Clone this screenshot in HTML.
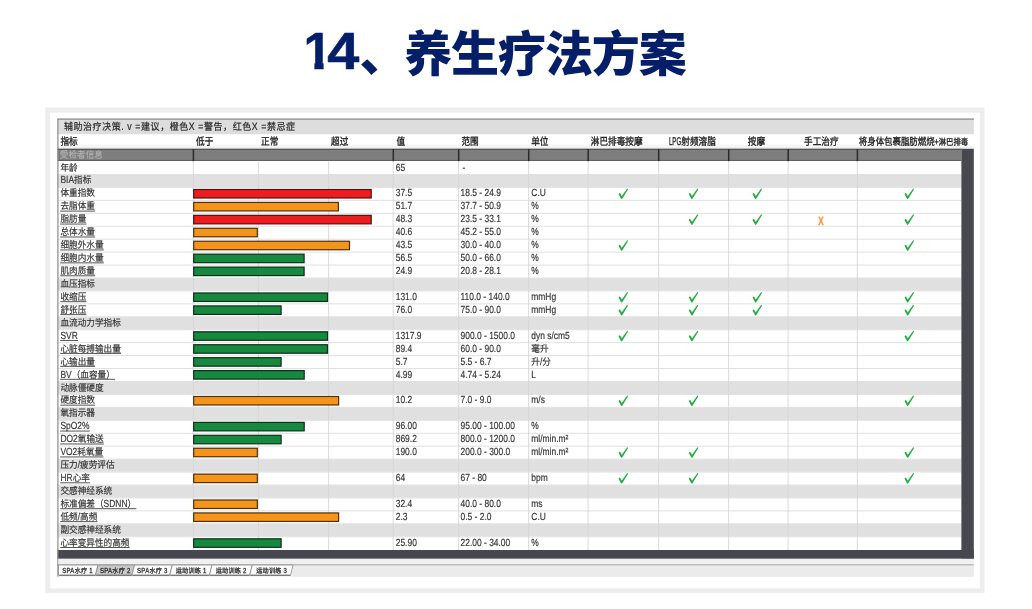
<!DOCTYPE html>
<html lang="zh-CN"><head><meta charset="utf-8"><title>14、养生疗法方案</title>
<style>
html,body{margin:0;padding:0;background:#fff;}
body{width:1032px;height:609px;overflow:hidden;position:relative;font-family:"Liberation Sans","Noto Sans CJK SC",sans-serif;}
h1{position:absolute;left:0;top:0;margin:0;width:1032px;height:100px;font-weight:900;font-size:47px;line-height:1;color:#041f68;white-space:nowrap;}
h1 span{position:absolute;}
h1 .n{font-size:51px;font-weight:700;-webkit-text-stroke:0.6px #041f68;}
h1 .c{font-size:48px;letter-spacing:-1.1px;}
svg{position:absolute;left:0;top:0;filter:blur(0.4px);}
svg text{font-family:"Liberation Sans","Noto Sans CJK SC",sans-serif;white-space:pre;text-rendering:geometricPrecision;}
</style></head><body>
<h1><span class="n" style="left:303.5px;top:26.3px;clip-path:polygon(-5px 0,40px 0,40px 36.4px,20.1px 36.4px,20.1px 51px,10.9px 51px,10.9px 36.4px,-5px 36.4px)">1</span><span class="n" style="left:331.2px;top:26.3px;transform:scaleX(1.13);transform-origin:100% 50%">4</span><span class="c" style="left:359.4px;top:30.6px">、</span><span class="c" style="left:404.2px;top:30.6px">养生疗法方案</span></h1>
<svg width="1032" height="609" viewBox="0 0 1032 609">
<defs>
<linearGradient id="hg" x1="0" y1="0" x2="0" y2="1"><stop offset="0" stop-color="#ffffff"/><stop offset="0.6" stop-color="#ffffff"/><stop offset="1" stop-color="#ececec"/></linearGradient>
<path id="ck" d="M-4.15 -1.0 Q-3.6 -1.5 -3.2 -0.9 L-1.55 1.75 L3.65 -5.5 Q4.1 -5.95 4.5 -5.45 Q4.75 -5.05 4.45 -4.55 L-1.1 4.55 Q-1.75 5.3 -2.35 4.5 L-4.7 0.15 Q-4.9 -0.4 -4.15 -1.0 Z" fill="#26ae43"/>
</defs>
<rect x="45.2" y="107.5" width="939.3" height="485.6" fill="#ededef"/>
<rect x="50.2" y="112.6" width="929.6" height="475.8" fill="#ffffff"/>
<rect x="57.5" y="118.7" width="916.3" height="15.8" fill="#dddddd"/>
<line x1="57.5" y1="119.2" x2="973.8" y2="119.2" stroke="#8c8c8c" stroke-width="1.2"/>
<rect x="57.5" y="134.5" width="916.3" height="14.3" fill="url(#hg)"/>
<rect x="57.5" y="148.8" width="903.9" height="401.19" fill="#ffffff"/>
<rect x="57.5" y="148.8" width="903.9" height="12.15" fill="#7e7e7e"/>
<line x1="57.5" y1="149.4" x2="961.4" y2="149.4" stroke="#555555" stroke-width="1.2"/>
<line x1="57.5" y1="160.45" x2="961.4" y2="160.45" stroke="#5e5e5e" stroke-width="1"/>
<line x1="193.4" y1="149.1" x2="193.4" y2="161.25" stroke="#2b2b2b" stroke-width="1.5"/>
<line x1="393.3" y1="149.1" x2="393.3" y2="161.25" stroke="#2b2b2b" stroke-width="1.5"/>
<line x1="458.7" y1="149.1" x2="458.7" y2="161.25" stroke="#2b2b2b" stroke-width="1.5"/>
<line x1="528.7" y1="149.1" x2="528.7" y2="161.25" stroke="#2b2b2b" stroke-width="1.5"/>
<line x1="588.2" y1="149.1" x2="588.2" y2="161.25" stroke="#2b2b2b" stroke-width="1.5"/>
<line x1="658.7" y1="149.1" x2="658.7" y2="161.25" stroke="#2b2b2b" stroke-width="1.5"/>
<line x1="728.7" y1="149.1" x2="728.7" y2="161.25" stroke="#2b2b2b" stroke-width="1.5"/>
<line x1="788.2" y1="149.1" x2="788.2" y2="161.25" stroke="#2b2b2b" stroke-width="1.5"/>
<line x1="857.4" y1="149.1" x2="857.4" y2="161.25" stroke="#2b2b2b" stroke-width="1.5"/>
<rect x="57.5" y="174.69" width="903.9" height="12.44" fill="#e0e0e0"/>
<rect x="57.5" y="278.19" width="903.9" height="12.44" fill="#e0e0e0"/>
<rect x="57.5" y="317.01" width="903.9" height="12.44" fill="#e0e0e0"/>
<rect x="57.5" y="381.7" width="903.9" height="12.44" fill="#e0e0e0"/>
<rect x="57.5" y="407.57" width="903.9" height="12.44" fill="#e0e0e0"/>
<rect x="57.5" y="459.32" width="903.9" height="12.44" fill="#e0e0e0"/>
<rect x="57.5" y="485.2" width="903.9" height="12.44" fill="#e0e0e0"/>
<rect x="57.5" y="524.01" width="903.9" height="12.44" fill="#e0e0e0"/>
<line x1="57.5" y1="174.49" x2="961.4" y2="174.49" stroke="#e0e0e0" stroke-width="1"/>
<line x1="57.5" y1="187.43" x2="961.4" y2="187.43" stroke="#e0e0e0" stroke-width="1"/>
<line x1="57.5" y1="200.36" x2="961.4" y2="200.36" stroke="#e0e0e0" stroke-width="1"/>
<line x1="57.5" y1="213.3" x2="961.4" y2="213.3" stroke="#e0e0e0" stroke-width="1"/>
<line x1="57.5" y1="226.24" x2="961.4" y2="226.24" stroke="#e0e0e0" stroke-width="1"/>
<line x1="57.5" y1="239.18" x2="961.4" y2="239.18" stroke="#e0e0e0" stroke-width="1"/>
<line x1="57.5" y1="252.12" x2="961.4" y2="252.12" stroke="#e0e0e0" stroke-width="1"/>
<line x1="57.5" y1="265.05" x2="961.4" y2="265.05" stroke="#e0e0e0" stroke-width="1"/>
<line x1="57.5" y1="277.99" x2="961.4" y2="277.99" stroke="#e0e0e0" stroke-width="1"/>
<line x1="57.5" y1="290.93" x2="961.4" y2="290.93" stroke="#e0e0e0" stroke-width="1"/>
<line x1="57.5" y1="303.87" x2="961.4" y2="303.87" stroke="#e0e0e0" stroke-width="1"/>
<line x1="57.5" y1="316.81" x2="961.4" y2="316.81" stroke="#e0e0e0" stroke-width="1"/>
<line x1="57.5" y1="329.74" x2="961.4" y2="329.74" stroke="#e0e0e0" stroke-width="1"/>
<line x1="57.5" y1="342.68" x2="961.4" y2="342.68" stroke="#e0e0e0" stroke-width="1"/>
<line x1="57.5" y1="355.62" x2="961.4" y2="355.62" stroke="#e0e0e0" stroke-width="1"/>
<line x1="57.5" y1="368.56" x2="961.4" y2="368.56" stroke="#e0e0e0" stroke-width="1"/>
<line x1="57.5" y1="381.5" x2="961.4" y2="381.5" stroke="#e0e0e0" stroke-width="1"/>
<line x1="57.5" y1="394.43" x2="961.4" y2="394.43" stroke="#e0e0e0" stroke-width="1"/>
<line x1="57.5" y1="407.37" x2="961.4" y2="407.37" stroke="#e0e0e0" stroke-width="1"/>
<line x1="57.5" y1="420.31" x2="961.4" y2="420.31" stroke="#e0e0e0" stroke-width="1"/>
<line x1="57.5" y1="433.25" x2="961.4" y2="433.25" stroke="#e0e0e0" stroke-width="1"/>
<line x1="57.5" y1="446.19" x2="961.4" y2="446.19" stroke="#e0e0e0" stroke-width="1"/>
<line x1="57.5" y1="459.12" x2="961.4" y2="459.12" stroke="#e0e0e0" stroke-width="1"/>
<line x1="57.5" y1="472.06" x2="961.4" y2="472.06" stroke="#e0e0e0" stroke-width="1"/>
<line x1="57.5" y1="485" x2="961.4" y2="485" stroke="#e0e0e0" stroke-width="1"/>
<line x1="57.5" y1="497.94" x2="961.4" y2="497.94" stroke="#e0e0e0" stroke-width="1"/>
<line x1="57.5" y1="510.88" x2="961.4" y2="510.88" stroke="#e0e0e0" stroke-width="1"/>
<line x1="57.5" y1="523.81" x2="961.4" y2="523.81" stroke="#e0e0e0" stroke-width="1"/>
<line x1="57.5" y1="536.75" x2="961.4" y2="536.75" stroke="#e0e0e0" stroke-width="1"/>
<line x1="193.3" y1="161.85" x2="193.3" y2="549.99" stroke="#d6d6d6" stroke-width="0.9"/>
<line x1="258.4" y1="161.85" x2="258.4" y2="549.99" stroke="#d6d6d6" stroke-width="0.9"/>
<line x1="328.6" y1="161.85" x2="328.6" y2="549.99" stroke="#d6d6d6" stroke-width="0.9"/>
<line x1="393.2" y1="161.85" x2="393.2" y2="549.99" stroke="#d6d6d6" stroke-width="0.9"/>
<line x1="458.6" y1="161.85" x2="458.6" y2="549.99" stroke="#d6d6d6" stroke-width="0.9"/>
<line x1="528.6" y1="161.85" x2="528.6" y2="549.99" stroke="#d6d6d6" stroke-width="0.9"/>
<line x1="588.1" y1="161.85" x2="588.1" y2="549.99" stroke="#d6d6d6" stroke-width="0.9"/>
<line x1="658.6" y1="161.85" x2="658.6" y2="549.99" stroke="#d6d6d6" stroke-width="0.9"/>
<line x1="728.6" y1="161.85" x2="728.6" y2="549.99" stroke="#d6d6d6" stroke-width="0.9"/>
<line x1="788.1" y1="161.85" x2="788.1" y2="549.99" stroke="#d6d6d6" stroke-width="0.9"/>
<line x1="857.3" y1="161.85" x2="857.3" y2="549.99" stroke="#d6d6d6" stroke-width="0.9"/>
<rect x="961.4" y="148.8" width="12.4" height="410" fill="#46474f"/>
<rect x="57.5" y="549.99" width="916.3" height="8.81" fill="#46474f"/>
<line x1="57.9" y1="118.7" x2="57.9" y2="576.8" stroke="#8a8a8a" stroke-width="1.2"/>
<rect x="58.5" y="558.8" width="915.3" height="18" fill="#f0f0f0"/>
<line x1="57.5" y1="565" x2="973.8" y2="565" stroke="#8e8e8e" stroke-width="1"/>
<rect x="292.5" y="565.5" width="681.3" height="11.3" fill="#ebebeb"/>
<path d="M58.5 565 L98 565 L95.4 575.3 L58.5 575.3 Z" fill="#fbfbfb" stroke="#8a8a8a" stroke-width="0.8"/>
<line x1="59.3" y1="575.2" x2="95.1" y2="575.2" stroke="#6a6a6a" stroke-width="1.1"/>
<g><text transform="translate(62.3 572.7) scale(0.82 1)" font-size="7.31" fill="#222222" stroke="#222222" stroke-width="0.25" letter-spacing="0.3">SPA</text><text transform="translate(74.63 572.7) scale(0.92 1)" font-size="6.67" fill="#222222" stroke="#222222" stroke-width="0.25" letter-spacing="0.27">水疗</text><text transform="translate(87.39 572.7) scale(0.82 1)" font-size="7.31" fill="#222222" stroke="#222222" stroke-width="0.25" letter-spacing="0.3"> 1</text></g>
<path d="M98 565 L134.5 565 L131.9 575.3 L95.4 575.3 Z" fill="#c9c9c9" stroke="#8a8a8a" stroke-width="0.8"/>
<line x1="96.2" y1="575.2" x2="131.6" y2="575.2" stroke="#6a6a6a" stroke-width="1.1"/>
<g><text transform="translate(99.95 572.7) scale(0.82 1)" font-size="7.31" fill="#222222" stroke="#222222" stroke-width="0.25" letter-spacing="0.3">SPA</text><text transform="translate(112.28 572.7) scale(0.92 1)" font-size="6.67" fill="#222222" stroke="#222222" stroke-width="0.25" letter-spacing="0.27">水疗</text><text transform="translate(125.04 572.7) scale(0.82 1)" font-size="7.31" fill="#222222" stroke="#222222" stroke-width="0.25" letter-spacing="0.3"> 2</text></g>
<path d="M134.5 565 L172.3 565 L169.7 575.3 L131.9 575.3 Z" fill="#fbfbfb" stroke="#8a8a8a" stroke-width="0.8"/>
<line x1="132.7" y1="575.2" x2="169.4" y2="575.2" stroke="#6a6a6a" stroke-width="1.1"/>
<g><text transform="translate(137.1 572.7) scale(0.82 1)" font-size="7.31" fill="#222222" stroke="#222222" stroke-width="0.25" letter-spacing="0.3">SPA</text><text transform="translate(149.43 572.7) scale(0.92 1)" font-size="6.67" fill="#222222" stroke="#222222" stroke-width="0.25" letter-spacing="0.27">水疗</text><text transform="translate(162.19 572.7) scale(0.82 1)" font-size="7.31" fill="#222222" stroke="#222222" stroke-width="0.25" letter-spacing="0.3"> 3</text></g>
<path d="M172.3 565 L212 565 L209.4 575.3 L169.7 575.3 Z" fill="#fbfbfb" stroke="#8a8a8a" stroke-width="0.8"/>
<line x1="170.5" y1="575.2" x2="209.1" y2="575.2" stroke="#6a6a6a" stroke-width="1.1"/>
<g><text transform="translate(175.64 572.7) scale(0.92 1)" font-size="6.67" fill="#222222" stroke="#222222" stroke-width="0.25" letter-spacing="0.27">运动训练</text><text transform="translate(201.15 572.7) scale(0.82 1)" font-size="7.31" fill="#222222" stroke="#222222" stroke-width="0.25" letter-spacing="0.3"> 1</text></g>
<path d="M212 565 L252.3 565 L249.7 575.3 L209.4 575.3 Z" fill="#fbfbfb" stroke="#8a8a8a" stroke-width="0.8"/>
<line x1="210.2" y1="575.2" x2="249.4" y2="575.2" stroke="#6a6a6a" stroke-width="1.1"/>
<g><text transform="translate(215.64 572.7) scale(0.92 1)" font-size="6.67" fill="#222222" stroke="#222222" stroke-width="0.25" letter-spacing="0.27">运动训练</text><text transform="translate(241.15 572.7) scale(0.82 1)" font-size="7.31" fill="#222222" stroke="#222222" stroke-width="0.25" letter-spacing="0.3"> 2</text></g>
<path d="M252.3 565 L293.1 565 L290.5 575.3 L249.7 575.3 Z" fill="#fbfbfb" stroke="#8a8a8a" stroke-width="0.8"/>
<line x1="250.5" y1="575.2" x2="290.2" y2="575.2" stroke="#6a6a6a" stroke-width="1.1"/>
<g><text transform="translate(256.19 572.7) scale(0.92 1)" font-size="6.67" fill="#222222" stroke="#222222" stroke-width="0.25" letter-spacing="0.27">运动训练</text><text transform="translate(281.7 572.7) scale(0.82 1)" font-size="7.31" fill="#222222" stroke="#222222" stroke-width="0.25" letter-spacing="0.3"> 3</text></g>
<rect x="193.7" y="189.48" width="177.5" height="8.5" fill="#ee1c1e" stroke="#4e100e" stroke-width="1.2"/>
<rect x="193.7" y="202.41" width="144.7" height="8.5" fill="#f4941a" stroke="#4e300c" stroke-width="1.2"/>
<rect x="193.7" y="215.35" width="177.5" height="8.5" fill="#ee1c1e" stroke="#4e100e" stroke-width="1.2"/>
<rect x="193.7" y="228.29" width="63.6" height="8.5" fill="#f4941a" stroke="#4e300c" stroke-width="1.2"/>
<rect x="193.7" y="241.23" width="155.8" height="8.5" fill="#f4941a" stroke="#4e300c" stroke-width="1.2"/>
<rect x="193.7" y="254.17" width="110.4" height="8.5" fill="#17893f" stroke="#0a3019" stroke-width="1.2"/>
<rect x="193.7" y="267.1" width="110.4" height="8.5" fill="#17893f" stroke="#0a3019" stroke-width="1.2"/>
<rect x="193.7" y="292.98" width="133.8" height="8.5" fill="#17893f" stroke="#0a3019" stroke-width="1.2"/>
<rect x="193.7" y="305.92" width="87.4" height="8.5" fill="#17893f" stroke="#0a3019" stroke-width="1.2"/>
<rect x="193.7" y="331.79" width="133.8" height="8.5" fill="#17893f" stroke="#0a3019" stroke-width="1.2"/>
<rect x="193.7" y="344.73" width="133.8" height="8.5" fill="#17893f" stroke="#0a3019" stroke-width="1.2"/>
<rect x="193.7" y="357.67" width="87.4" height="8.5" fill="#17893f" stroke="#0a3019" stroke-width="1.2"/>
<rect x="193.7" y="370.61" width="110.5" height="8.5" fill="#17893f" stroke="#0a3019" stroke-width="1.2"/>
<rect x="193.7" y="396.48" width="144.9" height="8.5" fill="#f4941a" stroke="#4e300c" stroke-width="1.2"/>
<rect x="193.7" y="422.36" width="110.5" height="8.5" fill="#17893f" stroke="#0a3019" stroke-width="1.2"/>
<rect x="193.7" y="435.3" width="87.4" height="8.5" fill="#17893f" stroke="#0a3019" stroke-width="1.2"/>
<rect x="193.7" y="448.24" width="63.6" height="8.5" fill="#f4941a" stroke="#4e300c" stroke-width="1.2"/>
<rect x="193.7" y="474.11" width="63.6" height="8.5" fill="#f4941a" stroke="#4e300c" stroke-width="1.2"/>
<rect x="193.7" y="499.99" width="63.6" height="8.5" fill="#f4941a" stroke="#4e300c" stroke-width="1.2"/>
<rect x="193.7" y="512.93" width="144.9" height="8.5" fill="#f4941a" stroke="#4e300c" stroke-width="1.2"/>
<rect x="193.7" y="538.8" width="87.4" height="8.5" fill="#17893f" stroke="#0a3019" stroke-width="1.2"/>
<g><text transform="translate(63.9 129.7) scale(0.92 1)" font-size="9.78" fill="#2a2a2a" stroke="#2a2a2a" stroke-width="0.2" letter-spacing="0.63">辅助治疗决策</text><text transform="translate(121.23 129.7) scale(0.82 1)" font-size="10.71" fill="#2a2a2a" stroke="#2a2a2a" stroke-width="0.2" letter-spacing="0.71">. v =</text><text transform="translate(141.01 129.7) scale(0.92 1)" font-size="9.78" fill="#2a2a2a" stroke="#2a2a2a" stroke-width="0.2" letter-spacing="0.63">建议，橙色</text><text transform="translate(188.78 129.7) scale(0.82 1)" font-size="10.71" fill="#2a2a2a" stroke="#2a2a2a" stroke-width="0.2" letter-spacing="0.71">X =</text><text transform="translate(203.98 129.7) scale(0.92 1)" font-size="9.78" fill="#2a2a2a" stroke="#2a2a2a" stroke-width="0.2" letter-spacing="0.63">警告，红色</text><text transform="translate(251.76 129.7) scale(0.82 1)" font-size="10.71" fill="#2a2a2a" stroke="#2a2a2a" stroke-width="0.2" letter-spacing="0.71">X =</text><text transform="translate(266.96 129.7) scale(0.92 1)" font-size="9.78" fill="#2a2a2a" stroke="#2a2a2a" stroke-width="0.2" letter-spacing="0.63">禁忌症</text></g>
<text transform="translate(60.4 145.4) scale(0.92 1.09)" font-size="9.4" fill="#1c1c1c" stroke="#1c1c1c" stroke-width="0.3">指标</text>
<text transform="translate(196.1 145.4) scale(0.92 1.09)" font-size="9.4" fill="#1c1c1c" stroke="#1c1c1c" stroke-width="0.3">低于</text>
<text transform="translate(261.1 145.4) scale(0.92 1.09)" font-size="9.4" fill="#1c1c1c" stroke="#1c1c1c" stroke-width="0.3">正常</text>
<text transform="translate(331.1 145.4) scale(0.92 1.09)" font-size="9.4" fill="#1c1c1c" stroke="#1c1c1c" stroke-width="0.3">超过</text>
<text transform="translate(396.5 145.4) scale(0.92 1.09)" font-size="9.4" fill="#1c1c1c" stroke="#1c1c1c" stroke-width="0.3">值</text>
<text transform="translate(461.4 145.4) scale(0.92 1.09)" font-size="9.4" fill="#1c1c1c" stroke="#1c1c1c" stroke-width="0.3">范围</text>
<text transform="translate(531.2 145.4) scale(0.92 1.09)" font-size="9.4" fill="#1c1c1c" stroke="#1c1c1c" stroke-width="0.3">单位</text>
<text transform="translate(590.8 145.4) scale(0.92 1.09)" font-size="9.4" fill="#1c1c1c" stroke="#1c1c1c" stroke-width="0.3">淋巴排毒按摩</text>
<g><text transform="translate(668.9 145.4) scale(0.6 1.09)" font-size="10.3" fill="#1c1c1c" stroke="#1c1c1c" stroke-width="0.3">LPG</text><text transform="translate(681.27 145.4) scale(0.92 1.09)" font-size="9.4" fill="#1c1c1c" stroke="#1c1c1c" stroke-width="0.3">射频溶脂</text></g>
<text transform="translate(747.8 145.4) scale(0.92 1.09)" font-size="9.4" fill="#1c1c1c" stroke="#1c1c1c" stroke-width="0.3">按摩</text>
<text transform="translate(804 145.4) scale(0.92 1.09)" font-size="9.4" fill="#1c1c1c" stroke="#1c1c1c" stroke-width="0.3">手工治疗</text>
<text transform="translate(858.8 145.4) scale(0.92 1.09)" font-size="9.17" fill="#1c1c1c" stroke="#1c1c1c" stroke-width="0.3">将身体包裹脂肪燃烧</text><text transform="translate(934.42 145.4) scale(0.82 1.09)" font-size="8.81" fill="#1c1c1c" stroke="#1c1c1c" stroke-width="0.3">+</text><text transform="translate(938.65 145.4) scale(0.92 1.09)" font-size="8.04" fill="#1c1c1c" stroke="#1c1c1c" stroke-width="0.3">淋巴排毒</text>
<text transform="translate(59.8 158.3) scale(0.92 1)" font-size="9.4" fill="#b4b4b4" stroke="#b4b4b4" stroke-width="0.1">受检者信息</text>
<text transform="translate(60.4 170.55) scale(0.92 1)" font-size="9.4" fill="#353535" stroke="#353535" stroke-width="0.18">年龄</text>
<text transform="translate(395.7 170.55) scale(0.82 1)" font-size="10.3" fill="#353535" stroke="#353535" stroke-width="0.18">65</text>
<text transform="translate(462.5 170.55) scale(0.82 1)" font-size="10.3" fill="#353535" stroke="#353535" stroke-width="0.18">-</text>
<g><text transform="translate(60.4 183.49) scale(0.82 1)" font-size="10.3" fill="#353535" stroke="#353535" stroke-width="0.18">BIA</text><text transform="translate(74.05 183.49) scale(0.92 1)" font-size="9.4" fill="#353535" stroke="#353535" stroke-width="0.18">指标</text></g>
<text transform="translate(60.4 196.43) scale(0.92 1)" font-size="9.4" fill="#353535" stroke="#353535" stroke-width="0.18">体重指数</text>
<text transform="translate(395.7 196.43) scale(0.82 1)" font-size="10.3" fill="#353535" stroke="#353535" stroke-width="0.18">37.5</text>
<text transform="translate(460.5 196.43) scale(0.82 1)" font-size="10.3" fill="#353535" stroke="#353535" stroke-width="0.18">18.5 - 24.9</text>
<text transform="translate(531.3 196.43) scale(0.82 1)" font-size="10.3" fill="#353535" stroke="#353535" stroke-width="0.18">C.U</text>
<use href="#ck" x="623.35" y="194.18"/>
<use href="#ck" x="693.6" y="194.18"/>
<use href="#ck" x="757.35" y="194.18"/>
<use href="#ck" x="909.35" y="194.18"/>
<text transform="translate(60.4 209.36) scale(0.92 1)" font-size="9.4" fill="#353535" stroke="#353535" stroke-width="0.18">去脂体重</text>
<line x1="60.2" y1="211.11" x2="95.12" y2="211.11" stroke="#353535" stroke-width="0.85"/>
<text transform="translate(395.7 209.36) scale(0.82 1)" font-size="10.3" fill="#353535" stroke="#353535" stroke-width="0.18">51.7</text>
<text transform="translate(460.5 209.36) scale(0.82 1)" font-size="10.3" fill="#353535" stroke="#353535" stroke-width="0.18">37.7 - 50.9</text>
<text transform="translate(531.3 209.36) scale(0.82 1)" font-size="10.3" fill="#353535" stroke="#353535" stroke-width="0.18">%</text>
<text transform="translate(60.4 222.3) scale(0.92 1)" font-size="9.4" fill="#353535" stroke="#353535" stroke-width="0.18">脂肪量</text>
<line x1="60.2" y1="224.05" x2="86.49" y2="224.05" stroke="#353535" stroke-width="0.85"/>
<text transform="translate(395.7 222.3) scale(0.82 1)" font-size="10.3" fill="#353535" stroke="#353535" stroke-width="0.18">48.3</text>
<text transform="translate(460.5 222.3) scale(0.82 1)" font-size="10.3" fill="#353535" stroke="#353535" stroke-width="0.18">23.5 - 33.1</text>
<text transform="translate(531.3 222.3) scale(0.82 1)" font-size="10.3" fill="#353535" stroke="#353535" stroke-width="0.18">%</text>
<use href="#ck" x="693.6" y="220.05"/>
<use href="#ck" x="757.35" y="220.05"/>
<text transform="translate(821.05 224.55) scale(0.68 1)" font-size="11.9" style="font-weight:700" fill="#f3952f" stroke="#f3952f" stroke-width="0.3" text-anchor="middle">X</text>
<use href="#ck" x="909.35" y="220.05"/>
<text transform="translate(60.4 235.24) scale(0.92 1)" font-size="9.4" fill="#353535" stroke="#353535" stroke-width="0.18">总体水量</text>
<line x1="60.2" y1="236.99" x2="95.12" y2="236.99" stroke="#353535" stroke-width="0.85"/>
<text transform="translate(395.7 235.24) scale(0.82 1)" font-size="10.3" fill="#353535" stroke="#353535" stroke-width="0.18">40.6</text>
<text transform="translate(460.5 235.24) scale(0.82 1)" font-size="10.3" fill="#353535" stroke="#353535" stroke-width="0.18">45.2 - 55.0</text>
<text transform="translate(531.3 235.24) scale(0.82 1)" font-size="10.3" fill="#353535" stroke="#353535" stroke-width="0.18">%</text>
<text transform="translate(60.4 248.18) scale(0.92 1)" font-size="9.4" fill="#353535" stroke="#353535" stroke-width="0.18">细胞外水量</text>
<line x1="60.2" y1="249.93" x2="103.75" y2="249.93" stroke="#353535" stroke-width="0.85"/>
<text transform="translate(395.7 248.18) scale(0.82 1)" font-size="10.3" fill="#353535" stroke="#353535" stroke-width="0.18">43.5</text>
<text transform="translate(460.5 248.18) scale(0.82 1)" font-size="10.3" fill="#353535" stroke="#353535" stroke-width="0.18">30.0 - 40.0</text>
<text transform="translate(531.3 248.18) scale(0.82 1)" font-size="10.3" fill="#353535" stroke="#353535" stroke-width="0.18">%</text>
<use href="#ck" x="623.35" y="245.93"/>
<use href="#ck" x="909.35" y="245.93"/>
<text transform="translate(60.4 261.12) scale(0.92 1)" font-size="9.4" fill="#353535" stroke="#353535" stroke-width="0.18">细胞内水量</text>
<line x1="60.2" y1="262.87" x2="103.75" y2="262.87" stroke="#353535" stroke-width="0.85"/>
<text transform="translate(395.7 261.12) scale(0.82 1)" font-size="10.3" fill="#353535" stroke="#353535" stroke-width="0.18">56.5</text>
<text transform="translate(460.5 261.12) scale(0.82 1)" font-size="10.3" fill="#353535" stroke="#353535" stroke-width="0.18">50.0 - 66.0</text>
<text transform="translate(531.3 261.12) scale(0.82 1)" font-size="10.3" fill="#353535" stroke="#353535" stroke-width="0.18">%</text>
<text transform="translate(60.4 274.05) scale(0.92 1)" font-size="9.4" fill="#353535" stroke="#353535" stroke-width="0.18">肌肉质量</text>
<line x1="60.2" y1="275.8" x2="95.12" y2="275.8" stroke="#353535" stroke-width="0.85"/>
<text transform="translate(395.7 274.05) scale(0.82 1)" font-size="10.3" fill="#353535" stroke="#353535" stroke-width="0.18">24.9</text>
<text transform="translate(460.5 274.05) scale(0.82 1)" font-size="10.3" fill="#353535" stroke="#353535" stroke-width="0.18">20.8 - 28.1</text>
<text transform="translate(531.3 274.05) scale(0.82 1)" font-size="10.3" fill="#353535" stroke="#353535" stroke-width="0.18">%</text>
<text transform="translate(60.4 286.99) scale(0.92 1)" font-size="9.4" fill="#353535" stroke="#353535" stroke-width="0.18">血压指标</text>
<text transform="translate(60.4 299.93) scale(0.92 1)" font-size="9.4" fill="#353535" stroke="#353535" stroke-width="0.18">收缩压</text>
<line x1="60.2" y1="301.68" x2="86.49" y2="301.68" stroke="#353535" stroke-width="0.85"/>
<text transform="translate(395.7 299.93) scale(0.82 1)" font-size="10.3" fill="#353535" stroke="#353535" stroke-width="0.18">131.0</text>
<text transform="translate(460.5 299.93) scale(0.82 1)" font-size="10.3" fill="#353535" stroke="#353535" stroke-width="0.18">110.0 - 140.0</text>
<text transform="translate(531.3 299.93) scale(0.82 1)" font-size="10.3" fill="#353535" stroke="#353535" stroke-width="0.18">mmHg</text>
<use href="#ck" x="623.35" y="297.68"/>
<use href="#ck" x="693.6" y="297.68"/>
<use href="#ck" x="757.35" y="297.68"/>
<use href="#ck" x="909.35" y="297.68"/>
<text transform="translate(60.4 312.87) scale(0.92 1)" font-size="9.4" fill="#353535" stroke="#353535" stroke-width="0.18">舒张压</text>
<line x1="60.2" y1="314.62" x2="86.49" y2="314.62" stroke="#353535" stroke-width="0.85"/>
<text transform="translate(395.7 312.87) scale(0.82 1)" font-size="10.3" fill="#353535" stroke="#353535" stroke-width="0.18">76.0</text>
<text transform="translate(460.5 312.87) scale(0.82 1)" font-size="10.3" fill="#353535" stroke="#353535" stroke-width="0.18">75.0 - 90.0</text>
<text transform="translate(531.3 312.87) scale(0.82 1)" font-size="10.3" fill="#353535" stroke="#353535" stroke-width="0.18">mmHg</text>
<use href="#ck" x="623.35" y="310.62"/>
<use href="#ck" x="693.6" y="310.62"/>
<use href="#ck" x="757.35" y="310.62"/>
<use href="#ck" x="909.35" y="310.62"/>
<text transform="translate(60.4 325.81) scale(0.92 1)" font-size="9.4" fill="#353535" stroke="#353535" stroke-width="0.18">血流动力学指标</text>
<text transform="translate(60.4 338.74) scale(0.82 1)" font-size="10.3" fill="#353535" stroke="#353535" stroke-width="0.18">SVR</text>
<line x1="60.2" y1="340.49" x2="78.01" y2="340.49" stroke="#353535" stroke-width="0.85"/>
<text transform="translate(395.7 338.74) scale(0.82 1)" font-size="10.3" fill="#353535" stroke="#353535" stroke-width="0.18">1317.9</text>
<text transform="translate(460.5 338.74) scale(0.82 1)" font-size="10.3" fill="#353535" stroke="#353535" stroke-width="0.18">900.0 - 1500.0</text>
<text transform="translate(531.3 338.74) scale(0.82 1)" font-size="10.3" fill="#353535" stroke="#353535" stroke-width="0.18">dyn s/cm5</text>
<use href="#ck" x="623.35" y="336.49"/>
<use href="#ck" x="693.6" y="336.49"/>
<use href="#ck" x="909.35" y="336.49"/>
<text transform="translate(60.4 351.68) scale(0.92 1)" font-size="9.4" fill="#353535" stroke="#353535" stroke-width="0.18">心脏每搏输出量</text>
<line x1="60.2" y1="353.43" x2="121" y2="353.43" stroke="#353535" stroke-width="0.85"/>
<text transform="translate(395.7 351.68) scale(0.82 1)" font-size="10.3" fill="#353535" stroke="#353535" stroke-width="0.18">89.4</text>
<text transform="translate(460.5 351.68) scale(0.82 1)" font-size="10.3" fill="#353535" stroke="#353535" stroke-width="0.18">60.0 - 90.0</text>
<text transform="translate(531.3 351.68) scale(0.92 1)" font-size="9.4" fill="#353535" stroke="#353535" stroke-width="0.18">毫升</text>
<text transform="translate(60.4 364.62) scale(0.92 1)" font-size="9.4" fill="#353535" stroke="#353535" stroke-width="0.18">心输出量</text>
<line x1="60.2" y1="366.37" x2="95.12" y2="366.37" stroke="#353535" stroke-width="0.85"/>
<text transform="translate(395.7 364.62) scale(0.82 1)" font-size="10.3" fill="#353535" stroke="#353535" stroke-width="0.18">5.7</text>
<text transform="translate(460.5 364.62) scale(0.82 1)" font-size="10.3" fill="#353535" stroke="#353535" stroke-width="0.18">5.5 - 6.7</text>
<g><text transform="translate(531.3 364.62) scale(0.92 1)" font-size="9.4" fill="#353535" stroke="#353535" stroke-width="0.18">升</text><text transform="translate(539.93 364.62) scale(0.82 1)" font-size="10.3" fill="#353535" stroke="#353535" stroke-width="0.18">/</text><text transform="translate(542.28 364.62) scale(0.92 1)" font-size="9.4" fill="#353535" stroke="#353535" stroke-width="0.18">分</text></g>
<g><text transform="translate(60.4 377.56) scale(0.82 1)" font-size="10.3" fill="#353535" stroke="#353535" stroke-width="0.18">BV</text><text transform="translate(71.69 377.56) scale(0.92 1)" font-size="9.4" fill="#353535" stroke="#353535" stroke-width="0.18">（血容量）</text></g>
<line x1="60.2" y1="379.31" x2="115.04" y2="379.31" stroke="#353535" stroke-width="0.85"/>
<text transform="translate(395.7 377.56) scale(0.82 1)" font-size="10.3" fill="#353535" stroke="#353535" stroke-width="0.18">4.99</text>
<text transform="translate(460.5 377.56) scale(0.82 1)" font-size="10.3" fill="#353535" stroke="#353535" stroke-width="0.18">4.74 - 5.24</text>
<text transform="translate(531.3 377.56) scale(0.82 1)" font-size="10.3" fill="#353535" stroke="#353535" stroke-width="0.18">L</text>
<text transform="translate(60.4 390.5) scale(0.92 1)" font-size="9.4" fill="#353535" stroke="#353535" stroke-width="0.18">动脉僵硬度</text>
<text transform="translate(60.4 403.43) scale(0.92 1)" font-size="9.4" fill="#353535" stroke="#353535" stroke-width="0.18">硬度指数</text>
<line x1="60.2" y1="405.18" x2="95.12" y2="405.18" stroke="#353535" stroke-width="0.85"/>
<text transform="translate(395.7 403.43) scale(0.82 1)" font-size="10.3" fill="#353535" stroke="#353535" stroke-width="0.18">10.2</text>
<text transform="translate(460.5 403.43) scale(0.82 1)" font-size="10.3" fill="#353535" stroke="#353535" stroke-width="0.18">7.0 - 9.0</text>
<text transform="translate(531.3 403.43) scale(0.82 1)" font-size="10.3" fill="#353535" stroke="#353535" stroke-width="0.18">m/s</text>
<use href="#ck" x="623.35" y="401.18"/>
<use href="#ck" x="693.6" y="401.18"/>
<use href="#ck" x="909.35" y="401.18"/>
<text transform="translate(60.4 416.37) scale(0.92 1)" font-size="9.4" fill="#353535" stroke="#353535" stroke-width="0.18">氧指示器</text>
<text transform="translate(60.4 429.31) scale(0.82 1)" font-size="10.3" fill="#353535" stroke="#353535" stroke-width="0.18">SpO2%</text>
<line x1="60.2" y1="431.06" x2="89.78" y2="431.06" stroke="#353535" stroke-width="0.85"/>
<text transform="translate(395.7 429.31) scale(0.82 1)" font-size="10.3" fill="#353535" stroke="#353535" stroke-width="0.18">96.00</text>
<text transform="translate(460.5 429.31) scale(0.82 1)" font-size="10.3" fill="#353535" stroke="#353535" stroke-width="0.18">95.00 - 100.00</text>
<text transform="translate(531.3 429.31) scale(0.82 1)" font-size="10.3" fill="#353535" stroke="#353535" stroke-width="0.18">%</text>
<g><text transform="translate(60.4 442.25) scale(0.82 1)" font-size="10.3" fill="#353535" stroke="#353535" stroke-width="0.18">DO2</text><text transform="translate(77.81 442.25) scale(0.92 1)" font-size="9.4" fill="#353535" stroke="#353535" stroke-width="0.18">氧输送</text></g>
<line x1="60.2" y1="444" x2="103.9" y2="444" stroke="#353535" stroke-width="0.85"/>
<text transform="translate(395.7 442.25) scale(0.82 1)" font-size="10.3" fill="#353535" stroke="#353535" stroke-width="0.18">869.2</text>
<text transform="translate(460.5 442.25) scale(0.82 1)" font-size="10.3" fill="#353535" stroke="#353535" stroke-width="0.18">800.0 - 1200.0</text>
<text transform="translate(531.3 442.25) scale(0.82 1)" font-size="10.3" fill="#353535" stroke="#353535" stroke-width="0.18">ml/min.m²</text>
<g><text transform="translate(60.4 455.19) scale(0.82 1)" font-size="10.3" fill="#353535" stroke="#353535" stroke-width="0.18">VO2</text><text transform="translate(77.34 455.19) scale(0.92 1)" font-size="9.4" fill="#353535" stroke="#353535" stroke-width="0.18">耗氧量</text></g>
<line x1="60.2" y1="456.94" x2="103.43" y2="456.94" stroke="#353535" stroke-width="0.85"/>
<text transform="translate(395.7 455.19) scale(0.82 1)" font-size="10.3" fill="#353535" stroke="#353535" stroke-width="0.18">190.0</text>
<text transform="translate(460.5 455.19) scale(0.82 1)" font-size="10.3" fill="#353535" stroke="#353535" stroke-width="0.18">200.0 - 300.0</text>
<text transform="translate(531.3 455.19) scale(0.82 1)" font-size="10.3" fill="#353535" stroke="#353535" stroke-width="0.18">ml/min.m²</text>
<use href="#ck" x="623.35" y="452.94"/>
<use href="#ck" x="693.6" y="452.94"/>
<use href="#ck" x="909.35" y="452.94"/>
<g><text transform="translate(60.4 468.12) scale(0.92 1)" font-size="9.4" fill="#353535" stroke="#353535" stroke-width="0.18">压力</text><text transform="translate(77.66 468.12) scale(0.82 1)" font-size="10.3" fill="#353535" stroke="#353535" stroke-width="0.18">/</text><text transform="translate(80.01 468.12) scale(0.92 1)" font-size="9.4" fill="#353535" stroke="#353535" stroke-width="0.18">疲劳评估</text></g>
<g><text transform="translate(60.4 481.06) scale(0.82 1)" font-size="10.3" fill="#353535" stroke="#353535" stroke-width="0.18">HR</text><text transform="translate(72.63 481.06) scale(0.92 1)" font-size="9.4" fill="#353535" stroke="#353535" stroke-width="0.18">心率</text></g>
<line x1="60.2" y1="482.81" x2="90.09" y2="482.81" stroke="#353535" stroke-width="0.85"/>
<text transform="translate(395.7 481.06) scale(0.82 1)" font-size="10.3" fill="#353535" stroke="#353535" stroke-width="0.18">64</text>
<text transform="translate(460.5 481.06) scale(0.82 1)" font-size="10.3" fill="#353535" stroke="#353535" stroke-width="0.18">67 - 80</text>
<text transform="translate(531.3 481.06) scale(0.82 1)" font-size="10.3" fill="#353535" stroke="#353535" stroke-width="0.18">bpm</text>
<use href="#ck" x="623.35" y="478.81"/>
<use href="#ck" x="693.6" y="478.81"/>
<use href="#ck" x="909.35" y="478.81"/>
<text transform="translate(60.4 494) scale(0.92 1)" font-size="9.4" fill="#353535" stroke="#353535" stroke-width="0.18">交感神经系统</text>
<g><text transform="translate(60.4 506.94) scale(0.92 1)" font-size="9.4" fill="#353535" stroke="#353535" stroke-width="0.18">标准偏差（</text><text transform="translate(103.55 506.94) scale(0.82 1)" font-size="10.3" fill="#353535" stroke="#353535" stroke-width="0.18">SDNN</text><text transform="translate(127.54 506.94) scale(0.92 1)" font-size="9.4" fill="#353535" stroke="#353535" stroke-width="0.18">）</text></g>
<line x1="60.2" y1="508.69" x2="136.37" y2="508.69" stroke="#353535" stroke-width="0.85"/>
<text transform="translate(395.7 506.94) scale(0.82 1)" font-size="10.3" fill="#353535" stroke="#353535" stroke-width="0.18">32.4</text>
<text transform="translate(460.5 506.94) scale(0.82 1)" font-size="10.3" fill="#353535" stroke="#353535" stroke-width="0.18">40.0 - 80.0</text>
<text transform="translate(531.3 506.94) scale(0.82 1)" font-size="10.3" fill="#353535" stroke="#353535" stroke-width="0.18">ms</text>
<g><text transform="translate(60.4 519.88) scale(0.92 1)" font-size="9.4" fill="#353535" stroke="#353535" stroke-width="0.18">低频</text><text transform="translate(77.66 519.88) scale(0.82 1)" font-size="10.3" fill="#353535" stroke="#353535" stroke-width="0.18">/</text><text transform="translate(80.01 519.88) scale(0.92 1)" font-size="9.4" fill="#353535" stroke="#353535" stroke-width="0.18">高频</text></g>
<line x1="60.2" y1="521.63" x2="97.47" y2="521.63" stroke="#353535" stroke-width="0.85"/>
<text transform="translate(395.7 519.88) scale(0.82 1)" font-size="10.3" fill="#353535" stroke="#353535" stroke-width="0.18">2.3</text>
<text transform="translate(460.5 519.88) scale(0.82 1)" font-size="10.3" fill="#353535" stroke="#353535" stroke-width="0.18">0.5 - 2.0</text>
<text transform="translate(531.3 519.88) scale(0.82 1)" font-size="10.3" fill="#353535" stroke="#353535" stroke-width="0.18">C.U</text>
<text transform="translate(60.4 532.81) scale(0.92 1)" font-size="9.4" fill="#353535" stroke="#353535" stroke-width="0.18">副交感神经系统</text>
<text transform="translate(60.4 545.75) scale(0.92 1)" font-size="9.4" fill="#353535" stroke="#353535" stroke-width="0.18">心率变异性的高频</text>
<line x1="60.2" y1="547.5" x2="129.63" y2="547.5" stroke="#353535" stroke-width="0.85"/>
<text transform="translate(395.7 545.75) scale(0.82 1)" font-size="10.3" fill="#353535" stroke="#353535" stroke-width="0.18">25.90</text>
<text transform="translate(460.5 545.75) scale(0.82 1)" font-size="10.3" fill="#353535" stroke="#353535" stroke-width="0.18">22.00 - 34.00</text>
<text transform="translate(531.3 545.75) scale(0.82 1)" font-size="10.3" fill="#353535" stroke="#353535" stroke-width="0.18">%</text>
</svg>
</body></html>
